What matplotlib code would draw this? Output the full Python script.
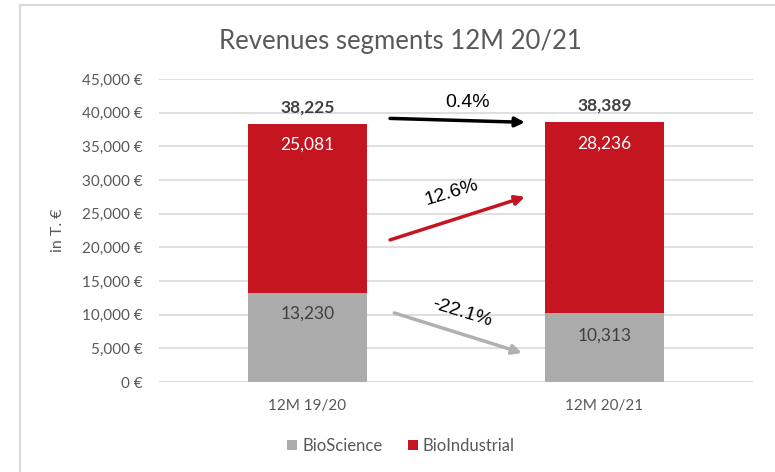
import matplotlib
matplotlib.use("Agg")
import matplotlib.pyplot as plt
from matplotlib.lines import Line2D

categories = ["12M 19/20", "12M 20/21"]
bioscience = [13230, 10313]
bioindustrial = [25081, 28236]
totals = [38225, 38389]
series_names = ["BioScience", "BioIndustrial"]
yticks = [0, 5000, 10000, 15000, 20000, 25000, 30000, 35000, 40000, 45000]
changes = ["0.4%", "12.6%", "-22.1%"]

FONT = "Lato"
plt.rcParams['font.family'] = [FONT, 'DejaVu Sans']

fig = plt.figure(figsize=(7.75, 4.72), dpi=100)
ax = fig.add_axes([159/775, 1-382/472, 594/775, 303/472])

grey = "#ABABAB"
red = "#C41520"
x = list(range(len(categories)))
w = 0.4
ax.bar(x, bioscience, width=w, color=grey, label=series_names[0], zorder=3)
ax.bar(x, bioindustrial, width=w, bottom=bioscience, color=red, label=series_names[1], zorder=3)

ax.set_xlim(-0.5, 1.5)
ax.set_ylim(0, 45000)
ax.set_yticks(yticks)
ax.set_yticklabels([f"{v:,} €" for v in yticks], fontsize=11, color="#595959")
ax.set_xticks(x)
ax.set_xticklabels(categories, fontsize=11, color="#595959")
ax.tick_params(axis='both', length=0)
ax.tick_params(axis='y', pad=12)
ax.tick_params(axis='x', pad=12)
ax.grid(axis='y', color="#D9D9D9", lw=1.2, zorder=0)
for s in ax.spines.values():
    s.set_visible(False)
ax.set_ylabel("in T. €", fontsize=11.5, color="#595959")
ax.yaxis.set_label_coords(-0.158, 0.5)

for i in x:
    b = bioscience[i]
    top = b + bioindustrial[i]
    off = -15 if i == 0 else -16.5
    ax.annotate(f"{b:,}", (i, b), xytext=(0, off), textcoords="offset points",
                ha="center", va="center", fontsize=12.5, color="#404040")
    ax.annotate(f"{bioindustrial[i]:,}", (i, top), xytext=(0, -15), textcoords="offset points",
                ha="center", va="center", fontsize=12.5, color="white")
    ax.annotate(f"{totals[i]:,}", (i, top), xytext=(0, 12), textcoords="offset points",
                ha="center", va="center", fontsize=12.5, color="#404040", fontweight="bold")

# change arrows (axes-fraction positions)
arrows = [
    ((0.389, 0.870), (0.616, 0.857), "black", (0.519, 0.922), 0),
    ((0.389, 0.469), (0.616, 0.611), "#C41520", (0.492, 0.626), 17),
    ((0.396, 0.228), (0.611, 0.096), "#B0B0B0", (0.510, 0.228), -17),
]
for (s, e, c, tp, rot), lab in zip(arrows, changes):
    ax.annotate("", xy=e, xytext=s, xycoords="axes fraction",
                arrowprops=dict(arrowstyle="-|>", color=c, lw=2.5, mutation_scale=14,
                                shrinkA=0, shrinkB=0), zorder=5)
    ax.text(tp[0], tp[1], lab, transform=ax.transAxes, ha="center", va="center",
            fontsize=14, rotation=rot, family=["Liberation Sans", "DejaVu Sans"], color="black")

fig.text(400/775, 1-41/472, "Revenues segments 12M 20/21", ha="center", va="center",
         fontsize=18.5, color="#595959")

leg = fig.legend(loc="center", bbox_to_anchor=(401/775, 1-446/472), ncol=2, frameon=False,
                 fontsize=12, handlelength=0.6, handleheight=0.6, handletextpad=0.3,
                 columnspacing=1.5, labelcolor="#595959")

# chart border
fig.add_artist(Line2D([20/775, 20/775], [0, 1-5/472], color="#D9D9D9", lw=1.5, transform=fig.transFigure))
fig.add_artist(Line2D([20/775, 1], [1-5/472, 1-5/472], color="#D9D9D9", lw=1.5, transform=fig.transFigure))

fig.savefig("out.png", dpi=100)
